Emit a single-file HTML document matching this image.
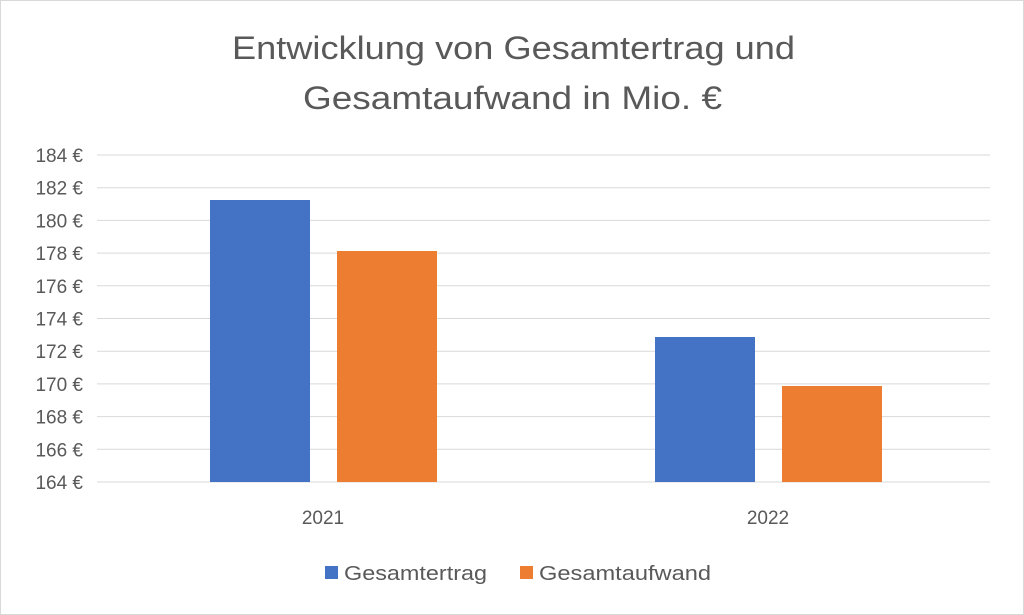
<!DOCTYPE html>
<html><head><meta charset="utf-8"><style>
body{margin:0;background:#fff}
svg{display:block}
text{font-family:"Liberation Sans",sans-serif;fill:#595959}
</style></head><body>
<svg width="1024" height="615" viewBox="0 0 1024 615">
<rect x="0.5" y="0.5" width="1023" height="614" fill="#fff" stroke="#d9d9d9"/>
<text x="232" y="59" font-size="32" textLength="563" lengthAdjust="spacingAndGlyphs">Entwicklung von Gesamtertrag und</text>
<text x="303" y="109" font-size="32" textLength="419" lengthAdjust="spacingAndGlyphs">Gesamtaufwand in Mio. €</text>
<g stroke="#d9d9d9" stroke-width="1">
<line x1="97" x2="990" y1="155" y2="155"/><line x1="97" x2="990" y1="187.7" y2="187.7"/>
<line x1="97" x2="990" y1="220.4" y2="220.4"/><line x1="97" x2="990" y1="253.1" y2="253.1"/>
<line x1="97" x2="990" y1="285.8" y2="285.8"/><line x1="97" x2="990" y1="318.5" y2="318.5"/>
<line x1="97" x2="990" y1="351.2" y2="351.2"/><line x1="97" x2="990" y1="383.9" y2="383.9"/>
<line x1="97" x2="990" y1="416.6" y2="416.6"/><line x1="97" x2="990" y1="449.3" y2="449.3"/>
<line x1="97" x2="990" y1="482" y2="482"/>
</g>
<g font-size="19" text-anchor="end">
<text x="83" y="162">184 €</text><text x="83" y="194.7">182 €</text><text x="83" y="227.4">180 €</text>
<text x="83" y="260.1">178 €</text><text x="83" y="292.8">176 €</text><text x="83" y="325.5">174 €</text>
<text x="83" y="358.2">172 €</text><text x="83" y="390.9">170 €</text><text x="83" y="423.6">168 €</text>
<text x="83" y="456.3">166 €</text><text x="83" y="489">164 €</text>
</g>
<rect x="210" y="200" width="100" height="282" fill="#4472c4"/>
<rect x="337" y="251" width="100" height="231" fill="#ed7d31"/>
<rect x="655" y="337" width="100" height="145" fill="#4472c4"/>
<rect x="782" y="386" width="100" height="96" fill="#ed7d31"/>
<text x="323" y="524" font-size="19" text-anchor="middle">2021</text>
<text x="768" y="524" font-size="19" text-anchor="middle">2022</text>
<rect x="325" y="566" width="13" height="13" fill="#4472c4"/>
<text x="344" y="580" font-size="20" textLength="143" lengthAdjust="spacingAndGlyphs">Gesamtertrag</text>
<rect x="520" y="566" width="13" height="13" fill="#ed7d31"/>
<text x="539" y="580" font-size="20" textLength="172" lengthAdjust="spacingAndGlyphs">Gesamtaufwand</text>
</svg>
</body></html>
